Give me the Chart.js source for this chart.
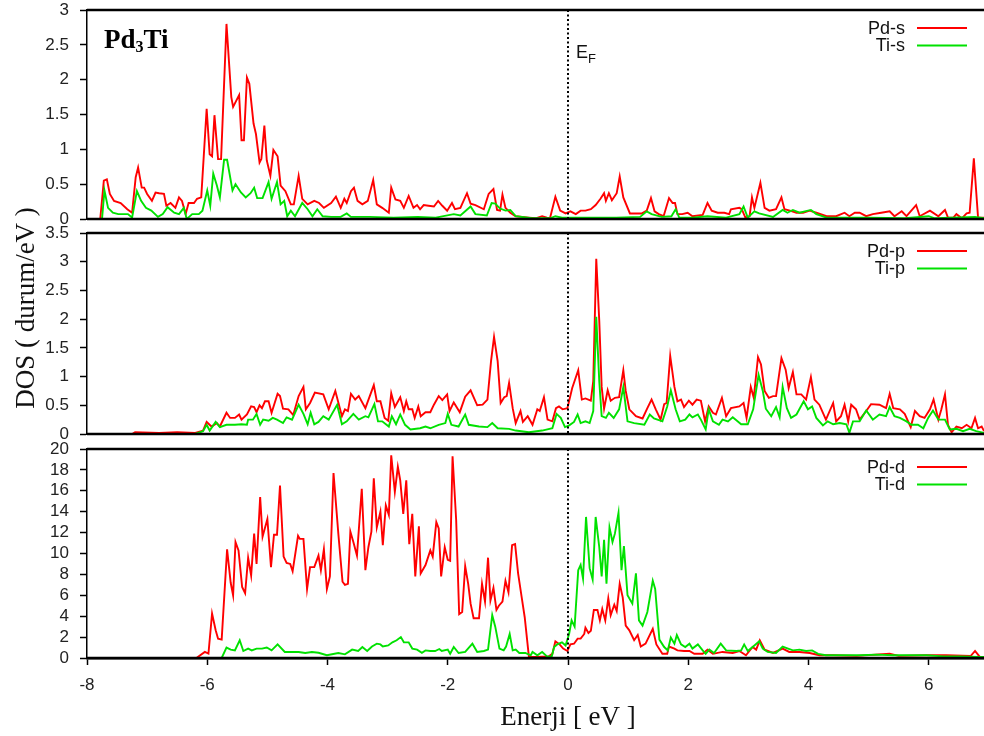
<!DOCTYPE html>
<html>
<head>
<meta charset="utf-8">
<script src="https://cdn.jsdelivr.net/npm/chart.js@4.4.1/dist/chart.umd.min.js"></script>
<style>
  body { margin: 0; background: #fff; }
  #wrap { position: relative; width: 984px; height: 736px; overflow: hidden; }
  #wrap canvas { position: absolute; left: 0; top: 0; }
</style>
</head>
<body>
<div id="wrap">
  <canvas id="panelS" width="1050" height="736"></canvas>
  <canvas id="panelP" width="1050" height="736"></canvas>
  <canvas id="panelD" width="1050" height="736"></canvas>
</div>
<script>
// energy (eV), DOS (states/eV) pairs
const pdS = [[-8,0],[-7.78,0],[-7.72,0.55],[-7.67,0.57],[-7.62,0.36],[-7.55,0.26],[-7.44,0.23],[-7.33,0.14],[-7.25,0.09],[-7.19,0.6],[-7.15,0.74],[-7.09,0.45],[-7.05,0.45],[-7.0,0.36],[-6.92,0.26],[-6.86,0.38],[-6.8,0.37],[-6.72,0.36],[-6.68,0.19],[-6.61,0.23],[-6.53,0.16],[-6.47,0.31],[-6.42,0.26],[-6.36,0.07],[-6.31,0.23],[-6.22,0.23],[-6.17,0.29],[-6.1,0.31],[-6.01,1.58],[-5.96,0.93],[-5.92,0.9],[-5.88,1.49],[-5.82,0.86],[-5.77,0.86],[-5.68,2.8],[-5.6,1.75],[-5.57,1.61],[-5.47,1.78],[-5.43,1.13],[-5.39,1.13],[-5.34,2.03],[-5.3,1.94],[-5.23,1.37],[-5.19,1.22],[-5.13,0.81],[-5.1,0.86],[-5.05,1.34],[-5.01,0.84],[-4.95,0.62],[-4.9,0.99],[-4.83,0.9],[-4.78,0.48],[-4.7,0.4],[-4.61,0.21],[-4.56,0.21],[-4.48,0.62],[-4.42,0.29],[-4.33,0.21],[-4.22,0.26],[-4.14,0.23],[-4.06,0.16],[-3.94,0.23],[-3.86,0.32],[-3.78,0.16],[-3.72,0.29],[-3.68,0.23],[-3.61,0.4],[-3.56,0.45],[-3.5,0.26],[-3.42,0.21],[-3.33,0.26],[-3.24,0.56],[-3.18,0.21],[-3.09,0.16],[-2.98,0.09],[-2.94,0.45],[-2.87,0.28],[-2.79,0.26],[-2.73,0.16],[-2.65,0.33],[-2.57,0.16],[-2.51,0.2],[-2.46,0.14],[-2.4,0.2],[-2.32,0.19],[-2.23,0.18],[-2.16,0.26],[-2.09,0.19],[-2.01,0.12],[-1.93,0.23],[-1.88,0.14],[-1.79,0.16],[-1.68,0.37],[-1.62,0.22],[-1.54,0.2],[-1.4,0.14],[-1.32,0.36],[-1.24,0.43],[-1.18,0.13],[-1.13,0.12],[-1.09,0.35],[-1.04,0.16],[-0.96,0.09],[-0.87,0.04],[-0.76,0.03],[-0.65,0.02],[-0.54,0.01],[-0.43,0.04],[-0.35,0.02],[-0.3,0.01],[-0.21,0.32],[-0.13,0.12],[-0.04,0.08],[0.04,0.11],[0.13,0.07],[0.21,0.12],[0.29,0.12],[0.38,0.14],[0.46,0.2],[0.54,0.29],[0.6,0.37],[0.63,0.26],[0.68,0.37],[0.73,0.27],[0.81,0.37],[0.86,0.61],[0.92,0.31],[1.03,0.08],[1.12,0.08],[1.23,0.08],[1.31,0.12],[1.38,0.3],[1.44,0.11],[1.51,0.07],[1.59,0.04],[1.68,0.3],[1.74,0.23],[1.78,0.23],[1.82,0.07],[1.9,0.07],[1.99,0.09],[2.07,0.04],[2.24,0.06],[2.32,0.23],[2.39,0.12],[2.49,0.09],[2.6,0.09],[2.68,0.07],[2.71,0.14],[2.85,0.16],[2.89,0.14],[2.95,0.02],[3.02,0.04],[3.06,0.31],[3.1,0.16],[3.2,0.52],[3.27,0.16],[3.35,0.12],[3.46,0.14],[3.55,0.31],[3.6,0.14],[3.69,0.12],[3.8,0.09],[3.91,0.09],[4.02,0.12],[4.13,0.09],[4.3,0.04],[4.46,0.04],[4.6,0.09],[4.68,0.04],[4.77,0.09],[4.85,0.09],[4.96,0.04],[5.07,0.07],[5.21,0.09],[5.35,0.11],[5.43,0.04],[5.55,0.11],[5.63,0.04],[5.79,0.2],[5.85,0.04],[6.02,0.12],[6.16,0.04],[6.27,0.13],[6.32,0.02],[6.41,0.02],[6.46,0.07],[6.55,0.01],[6.63,0.08],[6.68,0.09],[6.75,0.87],[6.82,0.02],[6.92,0.02]];

const tiS = [[-8,0],[-7.75,0],[-7.71,0.41],[-7.65,0.16],[-7.57,0.09],[-7.48,0.07],[-7.32,0.07],[-7.25,0.02],[-7.17,0.4],[-7.1,0.26],[-7.02,0.16],[-6.93,0.12],[-6.82,0.03],[-6.74,0.07],[-6.66,0.17],[-6.55,0.09],[-6.47,0.07],[-6.39,0.16],[-6.34,0.0],[-6.25,0.07],[-6.14,0.07],[-6.08,0.12],[-6.0,0.41],[-5.95,0.19],[-5.9,0.65],[-5.84,0.48],[-5.79,0.31],[-5.72,0.85],[-5.67,0.85],[-5.58,0.41],[-5.53,0.5],[-5.44,0.38],[-5.36,0.31],[-5.28,0.37],[-5.22,0.45],[-5.17,0.3],[-5.08,0.3],[-4.98,0.53],[-4.93,0.29],[-4.84,0.53],[-4.78,0.21],[-4.72,0.26],[-4.67,0.04],[-4.61,0.12],[-4.54,0.04],[-4.42,0.23],[-4.33,0.14],[-4.25,0.04],[-4.17,0.14],[-4.08,0.04],[-3.94,0.03],[-3.78,0.03],[-3.68,0.08],[-3.61,0.03],[-3.3,0.03],[-2.9,0.02],[-2.5,0.03],[-2.2,0.02],[-1.9,0.07],[-1.79,0.05],[-1.62,0.18],[-1.54,0.07],[-1.35,0.05],[-1.27,0.23],[-1.21,0.22],[-1.13,0.15],[-1.04,0.12],[-0.96,0.13],[-0.87,0.04],[-0.6,0.01],[-0.3,0.01],[-0.21,0.04],[-0.1,0.02],[0.3,0.02],[0.8,0.02],[1.2,0.03],[1.31,0.11],[1.39,0.07],[1.56,0.03],[1.72,0.04],[1.79,0.14],[1.85,0.02],[2.07,0.02],[2.32,0.04],[2.63,0.02],[2.85,0.07],[2.92,0.18],[2.99,0.02],[3.1,0.11],[3.18,0.08],[3.41,0.03],[3.57,0.13],[3.65,0.09],[3.74,0.13],[3.85,0.09],[4.04,0.13],[4.13,0.07],[4.3,0.02],[5.0,0.02],[5.6,0.01],[6.0,0.04],[6.1,0.01],[6.77,0.03],[6.92,0.01]];

const pdP = [[-8,0],[-7.25,0],[-7.2,0.03],[-6.8,0.02],[-6.5,0.03],[-6.2,0.02],[-6.07,0.06],[-6.01,0.21],[-5.93,0.13],[-5.84,0.19],[-5.79,0.13],[-5.68,0.37],[-5.62,0.28],[-5.54,0.28],[-5.47,0.34],[-5.43,0.25],[-5.34,0.34],[-5.27,0.48],[-5.22,0.47],[-5.18,0.38],[-5.13,0.5],[-5.09,0.45],[-5.04,0.57],[-4.98,0.57],[-4.93,0.37],[-4.83,0.7],[-4.79,0.66],[-4.74,0.44],[-4.65,0.43],[-4.57,0.33],[-4.48,0.66],[-4.4,0.82],[-4.36,0.43],[-4.29,0.54],[-4.21,0.72],[-4.07,0.69],[-3.98,0.43],[-3.87,0.75],[-3.76,0.31],[-3.71,0.43],[-3.66,0.4],[-3.61,0.7],[-3.54,0.6],[-3.48,0.66],[-3.37,0.45],[-3.23,0.85],[-3.18,0.57],[-3.12,0.57],[-3.05,0.28],[-2.99,0.23],[-2.94,0.71],[-2.88,0.47],[-2.79,0.64],[-2.73,0.4],[-2.69,0.57],[-2.65,0.43],[-2.59,0.43],[-2.55,0.28],[-2.49,0.48],[-2.45,0.31],[-2.37,0.38],[-2.29,0.38],[-2.23,0.51],[-2.15,0.66],[-2.09,0.59],[-2.01,0.69],[-1.97,0.4],[-1.9,0.55],[-1.8,0.38],[-1.71,0.65],[-1.62,0.76],[-1.51,0.5],[-1.42,0.51],[-1.34,0.6],[-1.28,1.27],[-1.23,1.69],[-1.17,1.27],[-1.12,0.54],[-1.06,0.64],[-1.02,0.66],[-0.98,0.89],[-0.92,0.45],[-0.87,0.19],[-0.79,0.4],[-0.75,0.21],[-0.67,0.31],[-0.59,0.16],[-0.51,0.43],[-0.47,0.4],[-0.4,0.64],[-0.34,0.25],[-0.26,0.22],[-0.2,0.45],[-0.15,0.48],[-0.09,0.43],[-0.01,0.45],[0.07,0.8],[0.17,1.11],[0.23,0.6],[0.29,0.62],[0.38,0.58],[0.42,0.92],[0.47,3.05],[0.52,1.97],[0.56,0.82],[0.6,0.44],[0.66,0.76],[0.71,0.58],[0.78,0.63],[0.85,0.64],[0.92,1.11],[0.96,0.75],[1.02,0.43],[1.13,0.31],[1.24,0.27],[1.32,0.45],[1.39,0.6],[1.46,0.43],[1.54,0.25],[1.6,0.52],[1.64,0.54],[1.7,1.36],[1.77,0.82],[1.82,0.57],[1.88,0.6],[1.93,0.47],[2.01,0.58],[2.07,0.51],[2.14,0.6],[2.21,0.58],[2.28,0.22],[2.34,0.48],[2.41,0.37],[2.46,0.34],[2.56,0.63],[2.63,0.31],[2.71,0.45],[2.85,0.48],[2.92,0.54],[2.97,0.28],[3.04,0.82],[3.09,0.63],[3.16,1.34],[3.21,1.21],[3.27,0.75],[3.34,0.63],[3.41,0.66],[3.46,0.66],[3.55,1.32],[3.62,1.12],[3.67,0.8],[3.74,1.08],[3.8,0.69],[3.88,0.69],[3.96,0.6],[4.04,0.99],[4.1,0.6],[4.18,0.51],[4.29,0.25],[4.41,0.54],[4.46,0.22],[4.54,0.31],[4.6,0.51],[4.66,0.22],[4.71,0.51],[4.79,0.43],[4.85,0.25],[4.96,0.4],[5.04,0.52],[5.18,0.51],[5.29,0.45],[5.35,0.7],[5.41,0.45],[5.52,0.43],[5.6,0.35],[5.7,0.12],[5.77,0.4],[5.85,0.31],[5.93,0.28],[6.02,0.43],[6.08,0.6],[6.16,0.25],[6.21,0.43],[6.27,0.69],[6.32,0.16],[6.38,0.03],[6.46,0.13],[6.55,0.1],[6.63,0.16],[6.71,0.1],[6.77,0.28],[6.82,0.1],[6.88,0.13],[6.92,0.05]];

const tiP = [[-8,0],[-6.2,0],[-6.07,0.05],[-6.01,0.16],[-5.96,0.06],[-5.86,0.21],[-5.79,0.12],[-5.68,0.16],[-5.54,0.16],[-5.43,0.17],[-5.34,0.16],[-5.32,0.25],[-5.24,0.25],[-5.18,0.35],[-5.12,0.16],[-5.07,0.25],[-4.98,0.23],[-4.91,0.28],[-4.84,0.25],[-4.74,0.19],[-4.68,0.29],[-4.59,0.25],[-4.48,0.51],[-4.4,0.35],[-4.33,0.17],[-4.28,0.37],[-4.22,0.17],[-4.15,0.21],[-4.07,0.31],[-3.98,0.25],[-3.84,0.51],[-3.76,0.17],[-3.68,0.22],[-3.57,0.35],[-3.48,0.25],[-3.37,0.31],[-3.32,0.29],[-3.22,0.52],[-3.16,0.22],[-3.09,0.22],[-2.98,0.13],[-2.93,0.31],[-2.86,0.17],[-2.79,0.34],[-2.71,0.16],[-2.62,0.08],[-2.46,0.1],[-2.37,0.13],[-2.29,0.1],[-2.15,0.16],[-2.04,0.19],[-2.0,0.35],[-1.94,0.16],[-1.82,0.13],[-1.71,0.34],[-1.65,0.16],[-1.48,0.13],[-1.34,0.12],[-1.26,0.19],[-1.17,0.1],[-0.98,0.09],[-0.87,0.06],[-0.65,0.03],[-0.43,0.06],[-0.26,0.1],[-0.19,0.35],[-0.12,0.28],[-0.05,0.12],[0.02,0.15],[0.1,0.21],[0.16,0.34],[0.21,0.19],[0.29,0.22],[0.36,0.19],[0.42,0.4],[0.47,2.04],[0.52,0.92],[0.56,0.31],[0.63,0.28],[0.68,0.37],[0.76,0.28],[0.85,0.43],[0.92,0.82],[0.99,0.22],[1.1,0.19],[1.27,0.16],[1.36,0.34],[1.43,0.27],[1.57,0.22],[1.65,0.48],[1.71,0.76],[1.79,0.43],[1.86,0.22],[1.95,0.25],[2.02,0.34],[2.07,0.29],[2.16,0.34],[2.21,0.25],[2.29,0.08],[2.34,0.43],[2.41,0.22],[2.51,0.16],[2.57,0.25],[2.66,0.22],[2.74,0.29],[2.88,0.17],[2.99,0.17],[3.08,0.43],[3.17,1.03],[3.24,0.75],[3.29,0.44],[3.38,0.31],[3.46,0.47],[3.52,0.29],[3.57,0.82],[3.64,0.45],[3.71,0.28],[3.8,0.34],[3.92,0.57],[3.99,0.43],[4.06,0.48],[4.13,0.28],[4.24,0.15],[4.32,0.22],[4.41,0.17],[4.52,0.19],[4.63,0.17],[4.68,0.02],[4.74,0.22],[4.85,0.22],[4.96,0.41],[5.07,0.25],[5.18,0.34],[5.29,0.31],[5.35,0.47],[5.43,0.31],[5.52,0.28],[5.63,0.22],[5.71,0.16],[5.82,0.16],[5.91,0.1],[5.99,0.28],[6.07,0.41],[6.16,0.25],[6.27,0.25],[6.35,0.08],[6.46,0.09],[6.57,0.05],[6.68,0.09],[6.79,0.05],[6.92,0.02]];

const pdD = [[-8,0],[-6.18,0],[-6.04,0.58],[-5.98,0.42],[-5.92,4.25],[-5.86,2.65],[-5.82,1.85],[-5.76,1.76],[-5.67,10.4],[-5.61,7.2],[-5.57,6.0],[-5.53,11.1],[-5.48,10.3],[-5.42,6.8],[-5.37,6.2],[-5.32,9.6],[-5.27,7.9],[-5.22,11.9],[-5.18,9.0],[-5.12,15.4],[-5.08,11.6],[-5.0,13.3],[-4.94,8.7],[-4.89,11.8],[-4.84,11.8],[-4.79,16.5],[-4.73,9.7],[-4.68,9.1],[-4.62,9.0],[-4.58,8.3],[-4.49,11.7],[-4.46,11.4],[-4.4,11.4],[-4.34,6.6],[-4.29,8.7],[-4.22,8.7],[-4.15,9.8],[-4.11,8.4],[-4.06,10.4],[-4.01,6.6],[-3.96,7.8],[-3.9,17.7],[-3.82,11.9],[-3.75,7.3],[-3.71,7.0],[-3.66,7.1],[-3.62,12.1],[-3.57,11.1],[-3.51,9.8],[-3.43,16.2],[-3.37,8.4],[-3.32,10.6],[-3.27,12.1],[-3.23,17.2],[-3.18,12.5],[-3.12,14.0],[-3.08,10.8],[-3.03,14.6],[-2.98,13.7],[-2.94,19.4],[-2.88,15.9],[-2.83,18.3],[-2.79,17.0],[-2.74,13.8],[-2.69,17.0],[-2.64,10.9],[-2.59,13.8],[-2.54,7.8],[-2.48,12.6],[-2.45,8.1],[-2.37,8.9],[-2.29,10.3],[-2.25,9.7],[-2.19,13.0],[-2.15,12.4],[-2.11,7.8],[-2.05,10.6],[-2.0,9.4],[-1.96,9.3],[-1.92,19.3],[-1.86,13.2],[-1.81,4.2],[-1.76,4.4],[-1.71,8.8],[-1.66,7.1],[-1.62,5.2],[-1.57,3.8],[-1.48,3.8],[-1.43,7.1],[-1.38,5.4],[-1.33,9.6],[-1.29,5.5],[-1.24,6.7],[-1.19,4.6],[-1.15,5.0],[-1.09,5.4],[-1.04,7.4],[-0.99,6.3],[-0.93,10.8],[-0.88,10.9],[-0.83,8.1],[-0.77,5.8],[-0.72,3.9],[-0.65,0.1],[-0.54,0.1],[-0.32,0.16],[-0.26,0.4],[-0.21,1.6],[-0.14,1.3],[-0.08,0.9],[-0.01,0.67],[0.04,1.3],[0.1,1.37],[0.16,1.85],[0.21,1.85],[0.27,2.3],[0.29,2.9],[0.34,2.4],[0.38,2.6],[0.43,4.6],[0.49,4.6],[0.53,3.6],[0.57,4.7],[0.62,3.6],[0.67,5.7],[0.71,4.1],[0.77,5.1],[0.81,4.5],[0.86,7.1],[0.91,5.8],[0.96,3.1],[1.02,2.65],[1.1,1.7],[1.16,2.2],[1.21,1.1],[1.29,1.37],[1.41,2.8],[1.47,1.3],[1.57,0.4],[1.65,0.4],[1.68,1.1],[1.77,0.9],[1.82,0.73],[1.93,0.67],[2.02,0.67],[2.1,0.4],[2.24,0.4],[2.32,0.8],[2.41,0.4],[2.57,0.58],[2.74,0.48],[2.85,0.67],[2.96,0.26],[3.07,1.05],[3.13,0.8],[3.19,1.7],[3.27,0.8],[3.41,0.48],[3.57,0.9],[3.68,0.58],[3.85,0.58],[4.02,0.48],[4.18,0.26],[4.41,0.26],[4.8,0.2],[5.35,0.4],[5.5,0.2],[5.96,0.26],[6.29,0.26],[6.7,0.2],[6.77,0.67],[6.85,0.1],[6.92,0.1]];

const tiD = [[-8,0],[-5.76,0],[-5.68,1.0],[-5.61,0.8],[-5.54,0.73],[-5.46,1.7],[-5.4,0.67],[-5.32,0.9],[-5.26,0.73],[-5.18,0.9],[-5.09,0.9],[-5.01,1.0],[-4.93,0.73],[-4.83,1.3],[-4.71,0.58],[-4.59,0.58],[-4.48,0.58],[-4.37,0.48],[-4.26,0.58],[-4.15,0.5],[-4.01,0.26],[-3.82,0.48],[-3.71,0.35],[-3.59,0.8],[-3.49,0.67],[-3.42,1.05],[-3.34,0.67],[-3.26,1.1],[-3.18,1.37],[-3.12,1.3],[-3.08,1.1],[-2.99,1.2],[-2.92,1.5],[-2.85,1.7],[-2.78,2.0],[-2.73,1.5],[-2.65,1.5],[-2.59,0.9],[-2.51,0.8],[-2.43,0.5],[-2.37,0.73],[-2.29,0.67],[-2.21,0.67],[-2.14,0.86],[-2.1,0.67],[-2.0,0.8],[-1.96,0.4],[-1.9,1.05],[-1.82,0.48],[-1.71,0.58],[-1.59,1.37],[-1.51,0.58],[-1.4,0.67],[-1.33,0.8],[-1.26,4.1],[-1.21,3.0],[-1.14,0.9],[-1.07,0.73],[-1.03,1.1],[-0.97,2.3],[-0.92,0.73],[-0.87,0.8],[-0.81,0.48],[-0.71,0.48],[-0.62,0.26],[-0.59,0.58],[-0.51,0.26],[-0.43,0.58],[-0.35,0.16],[-0.27,0.16],[-0.23,1.05],[-0.18,1.3],[-0.1,1.5],[-0.04,1.2],[0.02,2.35],[0.06,3.6],[0.11,3.0],[0.17,8.4],[0.21,8.9],[0.25,7.6],[0.3,13.5],[0.36,8.6],[0.41,7.5],[0.46,13.5],[0.52,10.6],[0.56,7.8],[0.6,11.3],[0.64,7.1],[0.69,12.5],[0.74,11.1],[0.78,11.9],[0.84,13.9],[0.89,8.4],[0.93,10.7],[0.99,6.0],[1.07,5.2],[1.13,8.1],[1.18,3.6],[1.24,3.1],[1.32,4.4],[1.41,7.4],[1.45,6.6],[1.52,1.76],[1.6,1.05],[1.66,0.73],[1.71,1.95],[1.77,1.37],[1.81,2.2],[1.88,1.3],[1.95,1.05],[2.02,1.37],[2.07,0.9],[2.16,1.3],[2.24,0.73],[2.29,0.4],[2.35,0.8],[2.43,0.48],[2.54,1.37],[2.63,0.73],[2.8,0.67],[2.88,0.73],[2.93,1.3],[2.99,0.67],[3.1,1.2],[3.18,1.6],[3.24,0.9],[3.32,0.58],[3.46,0.48],[3.57,1.1],[3.66,0.9],[3.74,0.73],[3.85,0.8],[3.96,0.67],[4.06,0.73],[4.16,0.4],[4.29,0.26],[4.57,0.26],[4.85,0.26],[5.13,0.32],[5.41,0.26],[5.68,0.26],[5.96,0.26],[6.24,0.16],[6.52,0.16],[6.85,0.1],[6.92,0.1]];

const labelsS = ['Pd-s', 'Ti-s'];
const labelsP = ['Pd-p', 'Ti-p'];
const labelsD = ['Pd-d', 'Ti-d'];

const RED = 'rgb(255, 0, 0)';
const GREEN = 'rgb(0, 225, 0)';
const H = 736;

function toXY(pairs) {
    return pairs.map(p => ({ x: p[0], y: p[1] }));
}

// frame lines, E_F dotted line and gnuplot-style legend
const panelDecor = {
    id: 'panelDecor',
    afterDatasetsDraw(chart) {
        const { ctx, chartArea } = chart;
        const x0 = chart.scales.x.getPixelForValue(0);
        ctx.save();
        ctx.strokeStyle = '#000';
        ctx.lineWidth = 2.5;
        ctx.beginPath();
        ctx.moveTo(chartArea.left, chartArea.top);
        ctx.lineTo(chartArea.right, chartArea.top);
        ctx.moveTo(chartArea.left, chartArea.bottom);
        ctx.lineTo(chartArea.right, chartArea.bottom);
        ctx.stroke();

        ctx.lineWidth = 2;
        ctx.setLineDash([2, 2.5]);
        ctx.beginPath();
        ctx.moveTo(x0, chartArea.top);
        ctx.lineTo(x0, chartArea.bottom);
        ctx.stroke();
        ctx.setLineDash([]);

        ctx.font = '18px "Liberation Sans", Arial, sans-serif';
        ctx.textAlign = 'right';
        ctx.textBaseline = 'middle';
        chart.data.datasets.forEach((ds, i) => {
            const y = chartArea.top + 18 + i * 17.5;
            ctx.fillStyle = '#111';
            ctx.fillText(ds.label, 905, y + 1);
            ctx.strokeStyle = ds.borderColor;
            ctx.lineWidth = 1.9;
            ctx.beginPath();
            ctx.moveTo(917, y);
            ctx.lineTo(967, y);
            ctx.stroke();
        });
        ctx.restore();
    }
};

function makePanel(id, top, bottom, yMax, yStep, red, green, labels, extra, showX) {
    const ctx = document.getElementById(id);
    return new Chart(ctx, {
        type: 'line',
        data: {
            datasets: [{
                label: labels[0],
                data: toXY(red),
                borderColor: RED,
                order: 2
            }, {
                label: labels[1],
                data: toXY(green),
                borderColor: GREEN,
                order: 1
            }]
        },
        options: {
            responsive: false,
            animation: false,
            events: [],
            elements: {
                point: { radius: 0 },
                line: { borderWidth: 1.9, tension: 0 }
            },
            layout: {
                padding: { top: top, bottom: showX ? 0 : H - bottom, left: 0, right: 1 }
            },
            plugins: {
                legend: { display: false },
                tooltip: { enabled: false }
            },
            scales: {
                x: {
                    type: 'linear',
                    min: -8,
                    max: 8,
                    display: showX,
                    border: { display: true, color: '#000', width: 2.5 },
                    grid: { drawOnChartArea: false, tickLength: 7, tickColor: '#000', tickWidth: 1.5 },
                    ticks: {
                        stepSize: 2,
                        includeBounds: false,
                        autoSkip: false,
                        maxRotation: 0,
                        padding: 10,
                        color: '#222',
                        font: { family: '"Liberation Sans", Arial, sans-serif', size: 17 }
                    },
                    title: {
                        display: true,
                        text: 'Enerji [ eV ]',
                        color: '#111',
                        padding: { top: 0, bottom: 2 },
                        font: { family: '"Liberation Serif", "Times New Roman", serif', size: 27 }
                    },
                    afterFit: s => {
                        if (!showX) return;
                        s.height = H - bottom;
                        s.paddingLeft = 0;
                        s.paddingRight = 0;
                    }
                },
                y: {
                    min: 0,
                    max: yMax,
                    border: { display: true, color: '#000', width: 1.5 },
                    grid: { drawOnChartArea: false, tickLength: 7, tickColor: '#000', tickWidth: 1.5 },
                    ticks: {
                        stepSize: yStep,
                        autoSkip: false,
                        padding: 11,
                        color: '#222',
                        font: { family: '"Liberation Sans", Arial, sans-serif', size: 17 },
                        callback: v => String(v)
                    },
                    afterFit: s => { s.width = 87; s.paddingTop = 0; s.paddingBottom = 0; }
                }
            }
        },
        plugins: [panelDecor, extra]
    });
}

// "Pd3Ti" and E_F annotations in the top panel
const topNotes = {
    id: 'topNotes',
    afterDraw(chart) {
        const { ctx } = chart;
        const x0 = chart.scales.x.getPixelForValue(0);
        ctx.save();
        ctx.fillStyle = '#000';
        ctx.textAlign = 'left';
        ctx.textBaseline = 'alphabetic';
        ctx.font = 'bold 27px "Liberation Serif", "Times New Roman", serif';
        ctx.fillText('Pd', 104, 48);
        let w = ctx.measureText('Pd').width;
        ctx.font = 'bold 16px "Liberation Serif", "Times New Roman", serif';
        ctx.fillText('3', 104 + w, 52);
        w += ctx.measureText('3').width;
        ctx.font = 'bold 27px "Liberation Serif", "Times New Roman", serif';
        ctx.fillText('Ti', 104 + w, 48);

        ctx.fillStyle = '#111';
        ctx.font = '18px "Liberation Sans", Arial, sans-serif';
        ctx.fillText('E', x0 + 8, 58);
        const ew = ctx.measureText('E').width;
        ctx.font = '13px "Liberation Sans", Arial, sans-serif';
        ctx.fillText('F', x0 + 8 + ew, 63);
        ctx.restore();
    }
};

// shared y axis title, drawn from the middle panel
const yTitle = {
    id: 'yTitle',
    afterDraw(chart) {
        const { ctx } = chart;
        ctx.save();
        ctx.translate(27, 308);
        ctx.rotate(-Math.PI / 2);
        ctx.fillStyle = '#111';
        ctx.font = '27px "Liberation Serif", "Times New Roman", serif';
        ctx.textAlign = 'center';
        ctx.textBaseline = 'middle';
        ctx.fillText('DOS ( durum/eV )', 0, 0);
        ctx.restore();
    }
};

const none = { id: 'none' };

makePanel('panelS', 10, 219, 3, 0.5, pdS, tiS, labelsS, topNotes, false);
makePanel('panelP', 233, 434, 3.5, 0.5, pdP, tiP, labelsP, yTitle, false);
makePanel('panelD', 449, 658, 20, 2, pdD, tiD, labelsD, none, true);
</script>
</body>
</html>
